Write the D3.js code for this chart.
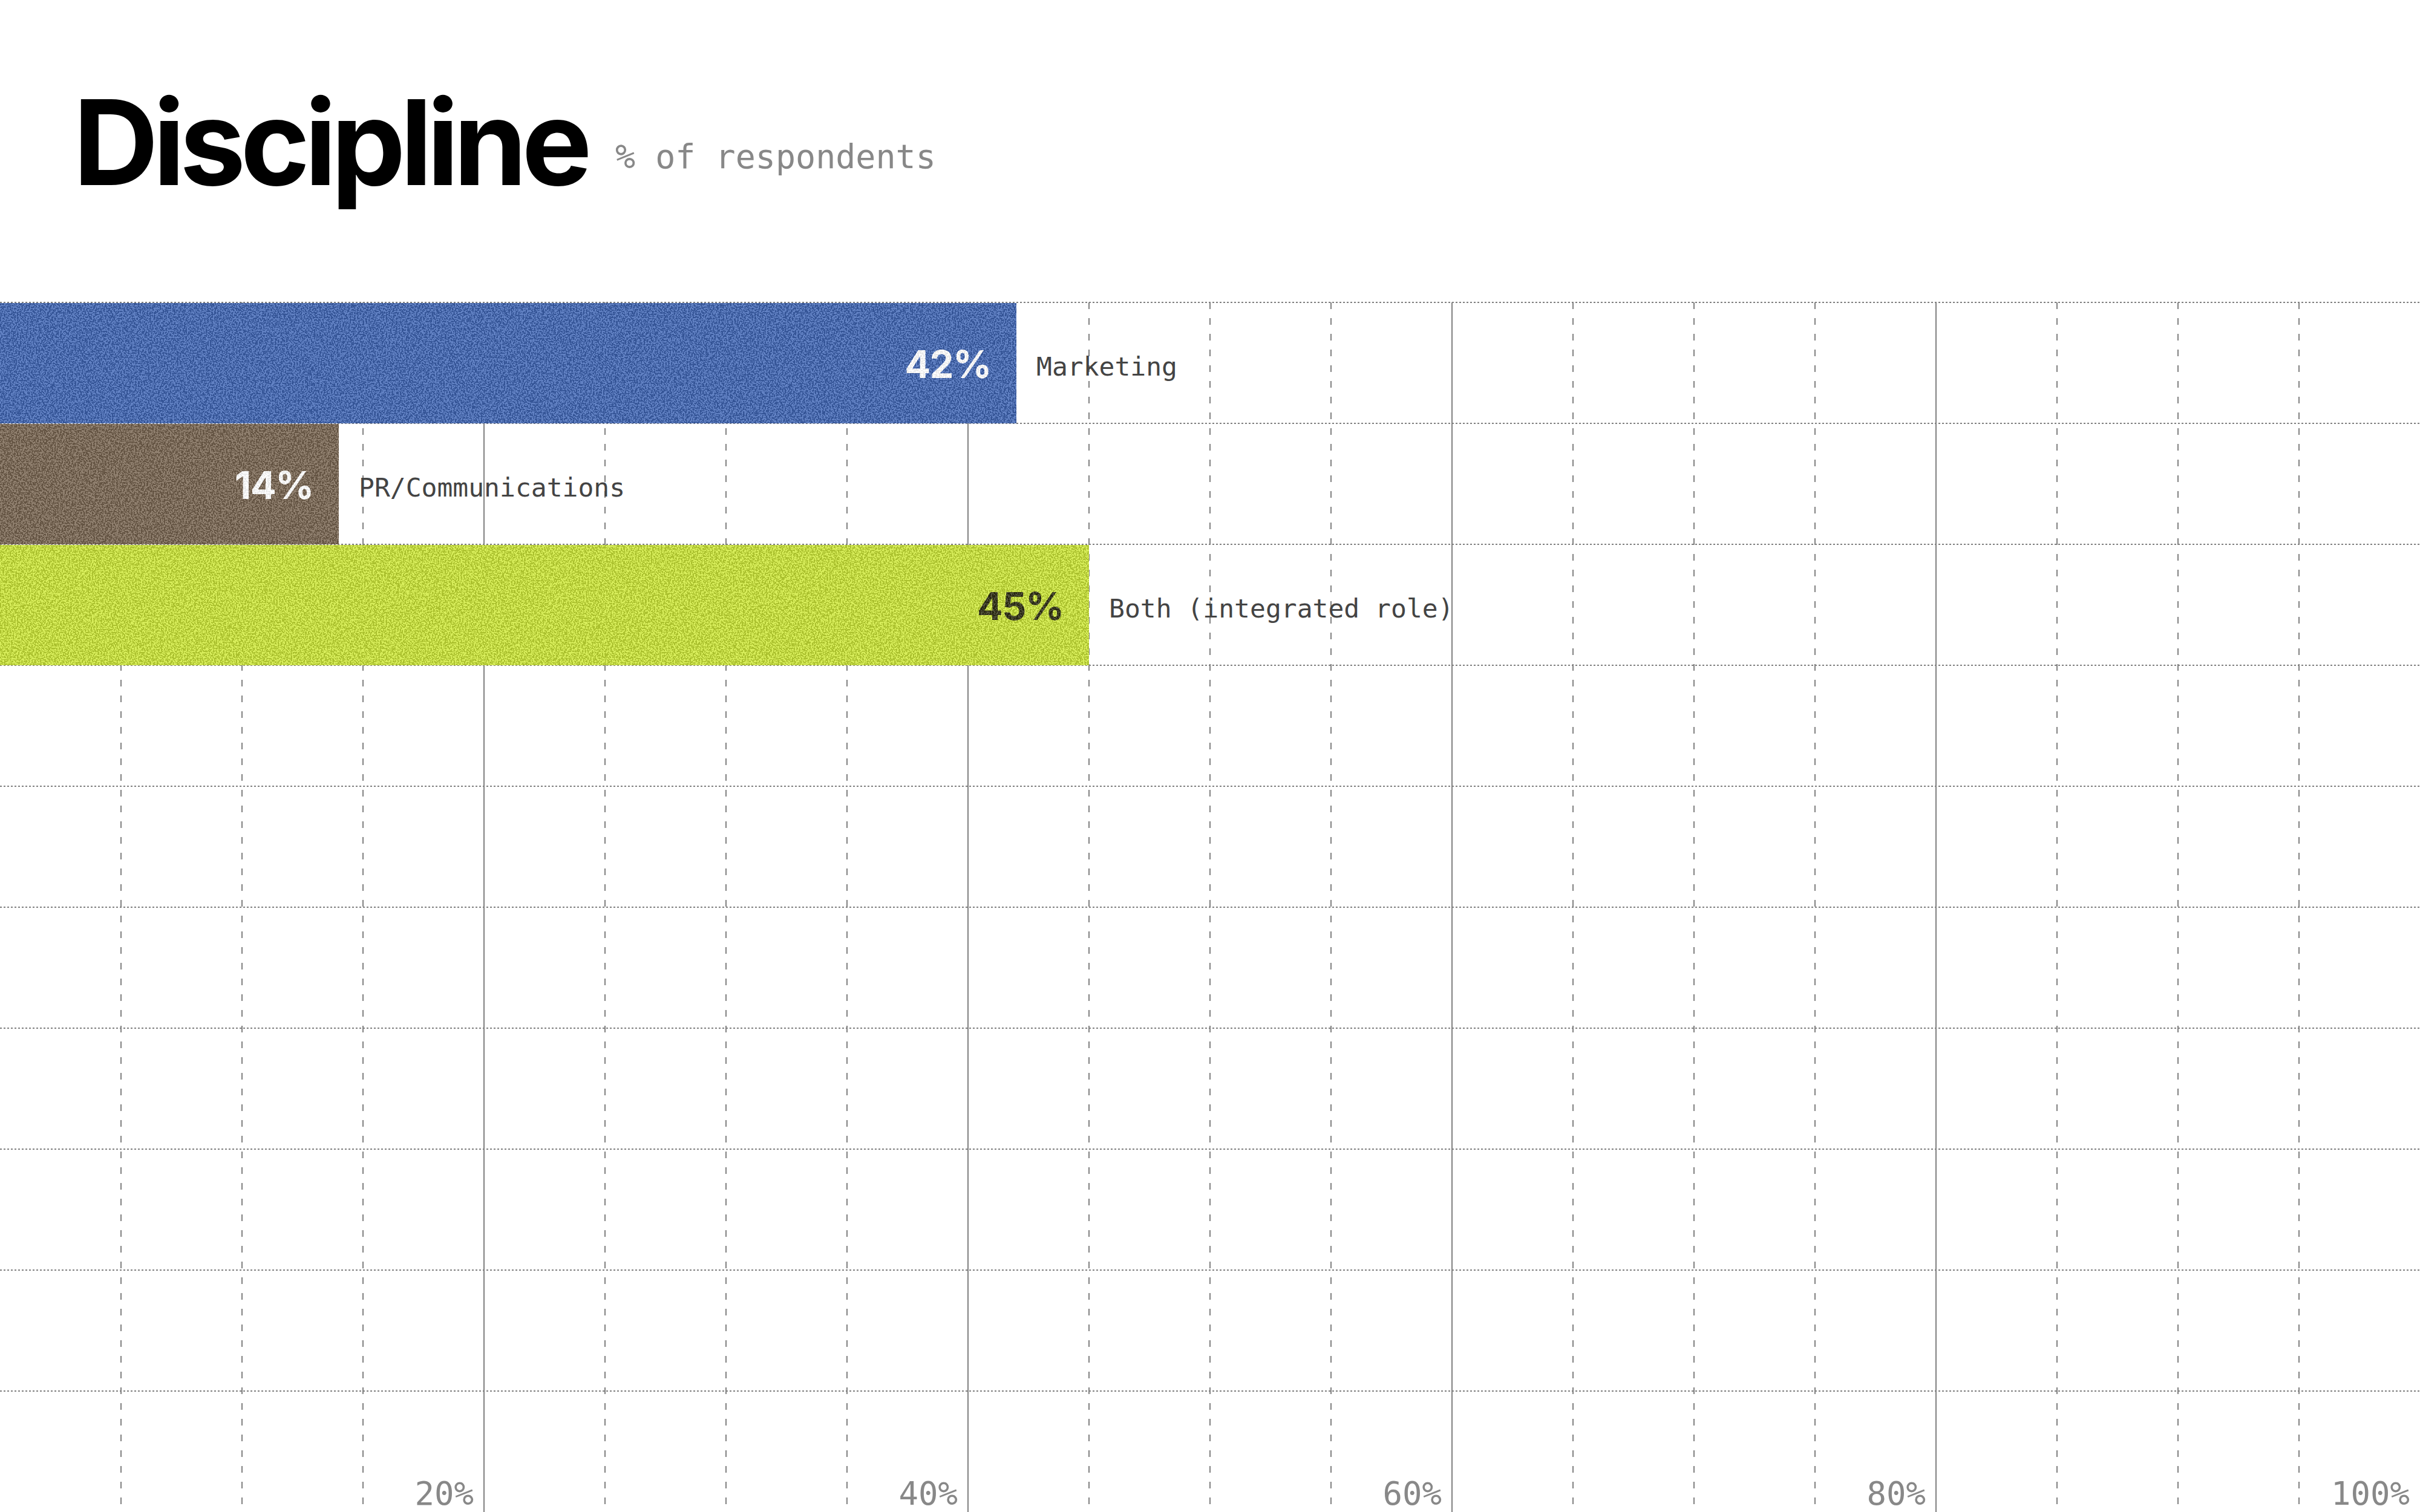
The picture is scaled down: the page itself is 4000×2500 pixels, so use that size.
<!DOCTYPE html>
<html>
<head>
<meta charset="utf-8">
<script src="https://cdn.jsdelivr.net/npm/d3@7"></script>
<style>
  html, body { margin: 0; padding: 0; background: #fff; }
  svg { display: block; }
</style>
</head>
<body>
<div id="chart"></div>
<script>
const categories = ["Marketing", "PR/Communications", "Both (integrated role)"];
const values = [42, 14, 45];
const barColors = ["#4b6bad", "#7a6a59", "#c1d744"];
const valueColors = ["#ffffff", "#ffffff", "#3b3b24"];
const tickValues = [20, 40, 60, 80, 100];
const tickLabels = ["20%", "40%", "60%", "80%", "100%"];

const W = 4000, H = 2500;
const gridTop = 500, rowCount = 10;

const svg = d3.select("#chart")
    .append("svg")
    .attr("width", W)
    .attr("height", H);

// grain filter for the bars
const defs = svg.append("defs");
const f = defs.append("filter")
    .attr("id", "grain")
    .attr("filterUnits", "userSpaceOnUse")
    .attr("x", 0).attr("y", 0).attr("width", W).attr("height", H)
    .attr("color-interpolation-filters", "sRGB");
f.append("feTurbulence")
    .attr("type", "fractalNoise")
    .attr("baseFrequency", 0.42)
    .attr("numOctaves", 2)
    .attr("seed", 3)
    .attr("result", "n");
f.append("feColorMatrix")
    .attr("in", "n")
    .attr("type", "matrix")
    .attr("values", "1 0 0 0 0  1 0 0 0 0  1 0 0 0 0  0 0 0 0 1")
    .attr("result", "g");
const ct = f.append("feComponentTransfer").attr("in", "g").attr("result", "b");
["feFuncR", "feFuncG", "feFuncB"].forEach(k =>
    ct.append(k).attr("type", "discrete").attr("tableValues", "0 1"));
f.append("feComposite")
    .attr("in", "SourceGraphic").attr("in2", "b")
    .attr("operator", "arithmetic")
    .attr("k1", 0).attr("k2", 1).attr("k3", 0.17).attr("k4", -0.085)
    .attr("result", "mix");
f.append("feComposite")
    .attr("in", "mix").attr("in2", "SourceGraphic")
    .attr("operator", "in");

// scales
const x = d3.scaleLinear()
    .domain([0, 100])
    .range([0, W]);

const y = d3.scaleBand()
    .domain(d3.range(rowCount))
    .range([gridTop, H])
    .padding(0);

// vertical grid
const grid = svg.append("g");
grid.selectAll("line.v")
    .data(x.ticks(20).filter(d => d > 0 && d < 100))
    .join("line")
    .attr("class", "v")
    .attr("x1", d => x(d)).attr("x2", d => x(d))
    .attr("y1", gridTop).attr("y2", H)
    .attr("stroke", "#808080")
    .attr("stroke-width", 2)
    .attr("stroke-dasharray", d => d % 20 === 0 ? null : "11 15");

// horizontal grid
grid.selectAll("line.h")
    .data(d3.range(rowCount))
    .join("line")
    .attr("class", "h")
    .attr("x1", 0).attr("x2", W)
    .attr("y1", d => y(d)).attr("y2", d => y(d))
    .attr("stroke", "#808080")
    .attr("stroke-width", 2)
    .attr("stroke-dasharray", "3 3");

// tick labels
svg.append("g")
    .selectAll("text")
    .data(tickValues)
    .join("text")
    .attr("x", d => x(d) - 17)
    .attr("y", H - 12)
    .attr("text-anchor", "end")
    .attr("font-family", "'DejaVu Sans Mono', monospace")
    .attr("font-size", 54)
    .attr("fill", "#888")
    .text((d, i) => tickLabels[i]);

// bars + value labels (grain applied to both)
const rows = svg.append("g")
    .selectAll("g")
    .data(categories)
    .join("g")
    .attr("filter", "url(#grain)");

rows.append("rect")
    .attr("x", x(0))
    .attr("y", (d, i) => y(i) + 1)
    .attr("width", (d, i) => x(values[i]) - x(0))
    .attr("height", y.bandwidth() - 1)
    .attr("fill", (d, i) => barColors[i]);

rows.append("text")
    .attr("x", (d, i) => x(values[i]) - 42)
    .attr("y", (d, i) => y(i) + y.bandwidth() / 2 + 25)
    .attr("text-anchor", "end")
    .attr("font-family", "Inter, 'Noto Sans', sans-serif")
    .attr("font-weight", 700)
    .attr("font-size", 63)
    .attr("letter-spacing", "-0.02em")
    .attr("fill", (d, i) => valueColors[i])
    .text((d, i) => values[i] + "%");

// category labels
svg.append("g")
    .selectAll("text")
    .data(categories)
    .join("text")
    .attr("x", (d, i) => x(values[i]) + 33)
    .attr("y", (d, i) => y(i) + y.bandwidth() / 2 + 21)
    .attr("font-family", "'DejaVu Sans Mono', monospace")
    .attr("font-size", 43)
    .attr("fill", "#444")
    .text(d => d);

// title
svg.append("text")
    .attr("x", 121)
    .attr("y", 306)
    .attr("font-family", "Inter, 'Liberation Sans', sans-serif")
    .attr("font-weight", 700)
    .attr("font-size", 195)
    .attr("letter-spacing", "-0.045em")
    .attr("fill", "#000")
    .text("Discipline");

svg.append("text")
    .attr("x", 1017)
    .attr("y", 278)
    .attr("font-family", "'DejaVu Sans Mono', monospace")
    .attr("font-size", 55)
    .attr("fill", "#888")
    .text("% of respondents");
</script>
</body>
</html>
